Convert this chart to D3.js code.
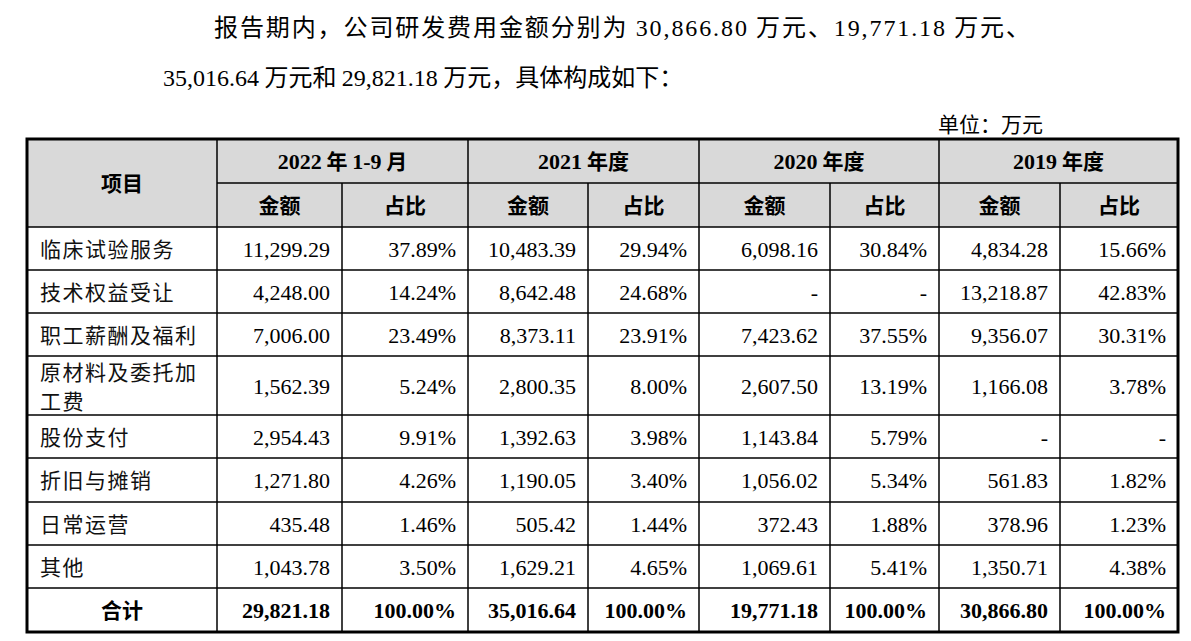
<!DOCTYPE html>
<html>
<head>
<meta charset="utf-8">
<script src="https://cdn.jsdelivr.net/npm/d3@7"></script>
<style>
  body { margin: 0; background: #fff; }
  svg { display: block; }
  .cjk { font-family: "Noto Sans CJK SC", sans-serif; }
  .num { font-family: "Liberation Serif", "Times New Roman", serif; }
</style>
</head>
<body>
<svg id="chart"></svg>
<script>
// row labels
var items = ["临床试验服务", "技术权益受让", "职工薪酬及福利", "原材料及委托加工费", "股份支付", "折旧与摊销", "日常运营", "其他"];
var periods = ["2022 年 1-9 月", "2021 年度", "2020 年度", "2019 年度"];

// amounts (万元), null = "-"
var amt2022 = [11299.29, 4248.00, 7006.00, 1562.39, 2954.43, 1271.80, 435.48, 1043.78];
var amt2021 = [10483.39, 8642.48, 8373.11, 2800.35, 1392.63, 1190.05, 505.42, 1629.21];
var amt2020 = [6098.16, null, 7423.62, 2607.50, 1143.84, 1056.02, 372.43, 1069.61];
var amt2019 = [4834.28, 13218.87, 9356.07, 1166.08, null, 561.83, 378.96, 1350.71];

// shares (%)
var pct2022 = [37.89, 14.24, 23.49, 5.24, 9.91, 4.26, 1.46, 3.50];
var pct2021 = [29.94, 24.68, 23.91, 8.00, 3.98, 3.40, 1.44, 4.65];
var pct2020 = [30.84, null, 37.55, 13.19, 5.79, 5.34, 1.88, 5.41];
var pct2019 = [15.66, 42.83, 30.31, 3.78, null, 1.82, 1.23, 4.38];

var totals = [29821.18, 35016.64, 19771.18, 30866.80];
var totalPct = [100, 100, 100, 100];

var amts = [amt2022, amt2021, amt2020, amt2019];
var pcts = [pct2022, pct2021, pct2020, pct2019];

var W = 1191, H = 641;
var svg = d3.select("#chart").attr("width", W).attr("height", H);

var fmtAmt = d3.format(",.2f");
var fmtPct = function(v){ return d3.format(".2f")(v) + "%"; };

// intro paragraph
var p1 = svg.append("text").attr("x", 214).attr("y", 36)
  .attr("font-size", 24).attr("fill", "#000")
  .attr("textLength", 816).attr("lengthAdjust", "spacing");
p1.append("tspan").attr("class", "cjk").text("报告期内，公司研发费用金额分别为 ");
p1.append("tspan").attr("class", "num").text(fmtAmt(totals[3]));
p1.append("tspan").attr("class", "cjk").text(" 万元、");
p1.append("tspan").attr("class", "num").text(fmtAmt(totals[2]));
p1.append("tspan").attr("class", "cjk").text(" 万元、");

var p2 = svg.append("text").attr("x", 163).attr("y", 86)
  .attr("font-size", 24).attr("fill", "#000");
p2.append("tspan").attr("class", "num").text(fmtAmt(totals[1]));
p2.append("tspan").attr("class", "cjk").text(" 万元和 ");
p2.append("tspan").attr("class", "num").text(fmtAmt(totals[0]));
p2.append("tspan").attr("class", "cjk").text(" 万元，具体构成如下：");

svg.append("text").attr("class", "cjk").attr("x", 1043).attr("y", 132)
  .attr("text-anchor", "end").attr("font-size", 21).attr("fill", "#000")
  .text("单位：万元");

// table layout
var colX = [27, 217, 342, 468, 588, 699, 830, 939, 1060, 1178];
var rowH = [44, 44, 43, 43, 43, 59, 43, 44, 43, 43, 44];
var tableTop = 139;
var rowY = [tableTop].concat(Array.from(d3.cumsum(rowH), function(v){ return tableTop + v; }));
var tableBottom = rowY[rowY.length - 1];

var g = svg.append("g");

// header background
g.append("rect").attr("x", colX[0]).attr("y", tableTop)
  .attr("width", colX[9] - colX[0]).attr("height", rowY[2] - tableTop)
  .attr("fill", "#d9d9d9");

// header cells
g.append("text").attr("class", "cjk").attr("x", (colX[0] + colX[1]) / 2).attr("y", (rowY[0] + rowY[2]) / 2 + 8)
  .attr("text-anchor", "middle").attr("font-size", 21).attr("font-weight", "bold").text("项目");

periods.forEach(function(p, i){
  var x0 = colX[1 + i * 2], x1 = colX[3 + i * 2];
  var t = g.append("text").attr("x", (x0 + x1) / 2).attr("y", (rowY[0] + rowY[1]) / 2 + 8)
    .attr("text-anchor", "middle").attr("font-size", 22).attr("font-weight", "bold");
  p.split(/(\d[\d-]*)/).filter(function(s){ return s.length; }).forEach(function(s){
    var isNum = /\d/.test(s);
    t.append("tspan").attr("class", isNum ? "num" : "cjk")
      .attr("font-size", isNum ? 22 : 21).text(s);
  });
  ["金额", "占比"].forEach(function(h, j){
    g.append("text").attr("class", "cjk")
      .attr("x", (colX[1 + i * 2 + j] + colX[2 + i * 2 + j]) / 2)
      .attr("y", (rowY[1] + rowY[2]) / 2 + 8)
      .attr("text-anchor", "middle").attr("font-size", 21).attr("font-weight", "bold").text(h);
  });
});

// body rows
items.forEach(function(name, r){
  var y0 = rowY[2 + r], y1 = rowY[3 + r], cy = (y0 + y1) / 2;
  var label = g.append("text").attr("class", "cjk").attr("x", colX[0] + 13)
    .attr("font-size", 21).attr("letter-spacing", 1.5).attr("fill", "#111");
  if (name.length > 7) {
    label.append("tspan").attr("x", colX[0] + 13).attr("y", cy - 14 + 8).text(name.slice(0, 7));
    label.append("tspan").attr("x", colX[0] + 13).attr("y", cy + 15 + 8).text(name.slice(7));
  } else {
    label.attr("y", cy + 8).text(name);
  }
  amts.forEach(function(a, i){
    var va = a[r], vp = pcts[i][r];
    g.append("text").attr("class", "num").attr("x", colX[2 + i * 2] - 12).attr("y", cy + 8)
      .attr("text-anchor", "end").attr("font-size", 22).text(va == null ? "-" : fmtAmt(va));
    g.append("text").attr("class", "num").attr("x", colX[3 + i * 2] - 12).attr("y", cy + 8)
      .attr("text-anchor", "end").attr("font-size", 22).text(vp == null ? "-" : fmtPct(vp));
  });
});

// total row
var ty = (rowY[10] + rowY[11]) / 2 + 8;
g.append("text").attr("class", "cjk").attr("x", (colX[0] + colX[1]) / 2).attr("y", ty)
  .attr("text-anchor", "middle").attr("font-size", 21).attr("font-weight", "bold").text("合计");
totals.forEach(function(v, i){
  g.append("text").attr("class", "num").attr("x", colX[2 + i * 2] - 12).attr("y", ty)
    .attr("text-anchor", "end").attr("font-size", 22).attr("font-weight", "bold").text(fmtAmt(v));
  g.append("text").attr("class", "num").attr("x", colX[3 + i * 2] - 12).attr("y", ty)
    .attr("text-anchor", "end").attr("font-size", 22).attr("font-weight", "bold").text(fmtPct(totalPct[i]));
});

// grid lines
var lines = g.append("g").attr("stroke", "#000").attr("stroke-width", 1.5);
rowY.slice(1, -1).forEach(function(y, k){
  // first header divider only spans period columns
  var x0 = k === 0 ? colX[1] : colX[0];
  lines.append("line").attr("x1", x0).attr("x2", colX[9]).attr("y1", y).attr("y2", y);
});
colX.slice(1, -1).forEach(function(x, k){
  // sub-column dividers start below the first header row
  var y0 = (k % 2 === 1) ? rowY[1] : tableTop;
  lines.append("line").attr("x1", x).attr("x2", x).attr("y1", y0).attr("y2", tableBottom);
});
g.append("rect").attr("x", colX[0]).attr("y", tableTop)
  .attr("width", colX[9] - colX[0]).attr("height", tableBottom - tableTop)
  .attr("fill", "none").attr("stroke", "#000").attr("stroke-width", 3);
</script>
</body>
</html>
